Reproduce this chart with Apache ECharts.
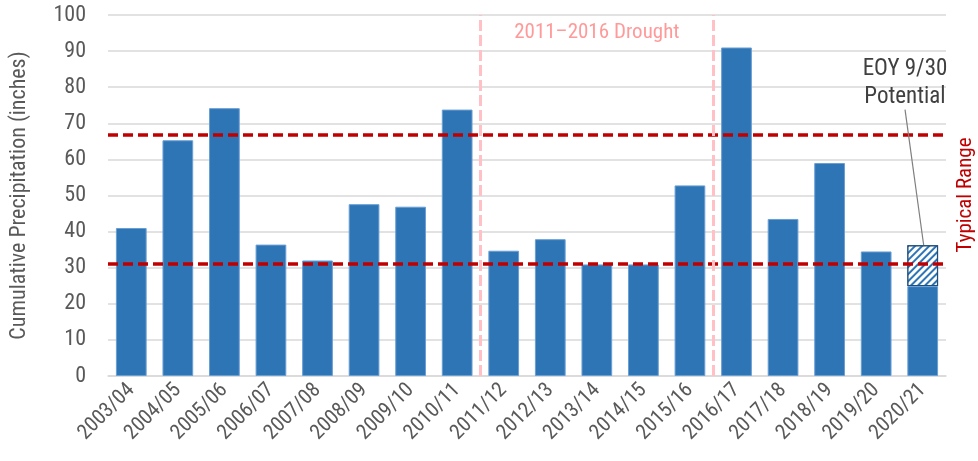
<!DOCTYPE html>
<html><head><meta charset="utf-8">
<script src="https://cdn.jsdelivr.net/npm/echarts@6/dist/echarts.min.js"></script>
<style>html,body{margin:0;padding:0;background:#fff}#c{width:978px;height:461px}</style>
</head><body><div id="c"></div>
<script>
const categories = ['2003/04','2004/05','2005/06','2006/07','2007/08','2008/09','2009/10','2010/11','2011/12','2012/13','2013/14','2014/15','2015/16','2016/17','2017/18','2018/19','2019/20','2020/21'];
const precipitation = [41.0, 65.3, 74.2, 36.4, 32.0, 47.6, 46.9, 73.8, 34.7, 37.9, 30.9, 30.9, 52.8, 91.0, 43.5, 59.0, 34.5, 24.9];
const eoyPotential = [null, null, null, null, null, null, null, null, null, null, null, null, null, null, null, null, null, 11.3];
const typicalRange = [31.1, 66.8];
const droughtBounds = [8, 13];
const yTicks = [0, 100, 10];
const FONT = '"Liberation Sans Narrow", "Roboto Condensed", Roboto, sans-serif';
const GREY = '#595959';

const chart = echarts.init(document.getElementById('c'));
chart.setOption({
  animation: false,
  textStyle: { fontFamily: FONT },
  grid: { left: 106, right: 32, top: 15, bottom: 85 },
  xAxis: [
    { type: 'category', data: categories,
      axisLine: { lineStyle: { color: '#D9D9D9', width: 1.5 } },
      axisTick: { show: false },
      axisLabel: { rotate: 45, color: GREY, fontSize: 21, margin: 11, interval: 0, fontFamily: FONT } },
    { type: 'value', min: 0, max: categories.length, show: false }
  ],
  yAxis: {
    type: 'value', min: yTicks[0], max: yTicks[1], interval: yTicks[2],
    name: 'Cumulative Precipitation (inches)', nameLocation: 'middle', nameGap: 78,
    nameTextStyle: { color: GREY, fontSize: 22, fontFamily: FONT },
    axisLine: { show: false }, axisTick: { show: false },
    axisLabel: { color: GREY, fontSize: 22, margin: 22, fontFamily: FONT },
    splitLine: { lineStyle: { color: '#D9D9D9', width: 1.5 } }
  },
  series: [
    { type: 'bar', name: 'Precipitation', data: precipitation, stack: 'p', barWidth: '66%',
      itemStyle: { color: '#2E75B6', borderColor: '#6A9FD4', borderWidth: 1 },
      markLine: { silent: true, symbol: 'none', label: { show: false },
        lineStyle: { color: '#C00000', width: 3.5, type: [10, 5] },
        data: typicalRange.map(v => ({ yAxis: v })) } },
    { type: 'bar', name: 'EOY 9/30 Potential', data: eoyPotential, stack: 'p', barWidth: '66%',
      itemStyle: { color: '#ffffff', borderColor: '#1F4E79', borderWidth: 1.2,
        decal: { symbol: 'rect', symbolSize: 1, dashArrayX: [[1, 0]], dashArrayY: [1.6, 2.6],
          rotation: -Math.PI / 4, color: '#2E75B6', backgroundColor: '#ffffff' } } },
    { type: 'line', xAxisIndex: 1, data: [], z: 1,
      markLine: { silent: true, symbol: 'none', label: { show: false },
        lineStyle: { color: '#FFC0C6', width: 3, type: [11, 4] },
        data: droughtBounds.map(v => ({ xAxis: v })) },
      markArea: { silent: true, itemStyle: { color: 'rgba(0,0,0,0)' },
        label: { show: true, position: 'insideTop', distance: 7, color: '#FF9A9A', fontSize: 21, fontFamily: FONT },
        data: [[{ xAxis: droughtBounds[0], yAxis: 100, name: '2011\u20132016 Drought' }, { xAxis: droughtBounds[1], yAxis: 80 }]] } },
    { type: 'line', xAxisIndex: 1, data: [], z: 5,
      markLine: { silent: true, symbol: 'none', label: { show: false },
        lineStyle: { color: '#7F7F7F', width: 1.2, type: 'solid' },
        data: [[{ coord: [17.52, 36.3] }, { coord: [17.12, 73.8] }]] } }
  ],
  graphic: [
    { type: 'text', x: 905, y: 55, z: 10, style: { text: 'EOY 9/30\nPotential', fill: '#404040', font: '23px ' + FONT, align: 'center', lineHeight: 28 } },
    { type: 'text', x: 966, y: 195, rotation: Math.PI / 2, style: { text: 'Typical Range', fill: '#C00000', font: '21px ' + FONT, align: 'center', verticalAlign: 'middle' } }
  ]
});
</script></body></html>
